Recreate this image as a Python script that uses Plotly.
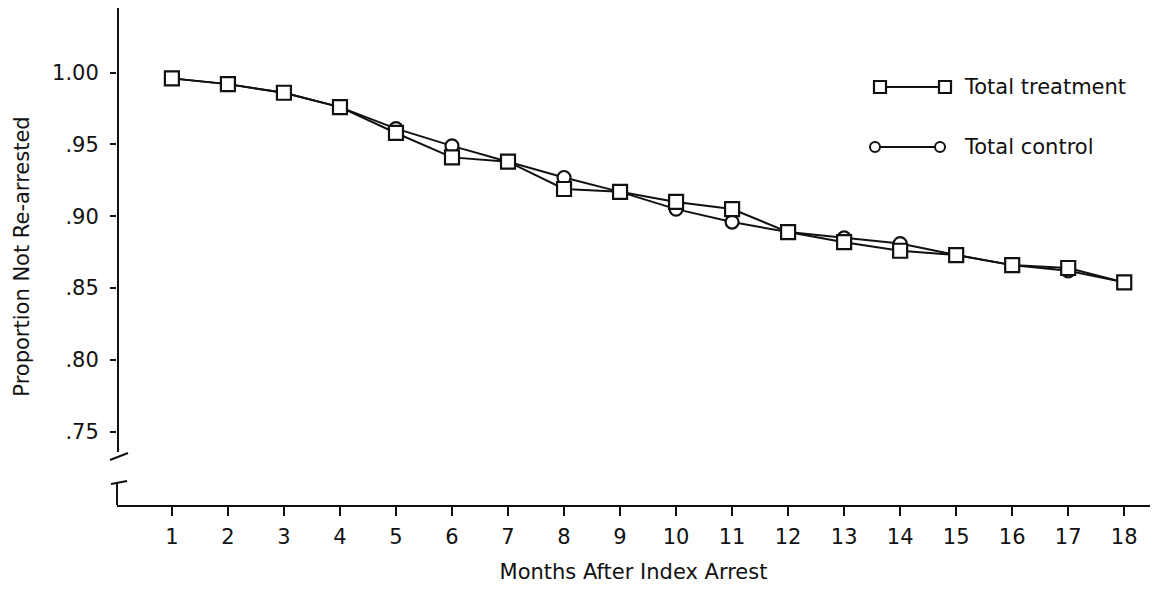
import plotly.graph_objects as go

months = list(range(1, 19))
treatment = [0.996, 0.992, 0.986, 0.976, 0.958, 0.941, 0.938, 0.919, 0.917,
             0.910, 0.905, 0.889, 0.882, 0.876, 0.873, 0.866, 0.864, 0.854]
control = [0.996, 0.992, 0.986, 0.976, 0.961, 0.949, 0.938, 0.927, 0.917,
           0.905, 0.896, 0.889, 0.885, 0.881, 0.873, 0.866, 0.862, 0.854]
y_tickvals = [0.75, 0.80, 0.85, 0.90, 0.95, 1.00]
y_ticktext = [".75", ".80", ".85", ".90", ".95", "1.00"]
x_ticktext = [str(m) for m in months]

FONT = "DejaVu Sans"
INK = "#111111"
FS = 21

fig = go.Figure()
fig.add_trace(go.Scatter(
    x=months, y=control, mode="lines+markers", name="Total control",
    line=dict(color=INK, width=2),
    marker=dict(symbol="circle", size=13, color="white", line=dict(color=INK, width=2.2)),
))
fig.add_trace(go.Scatter(
    x=months, y=treatment, mode="lines+markers", name="Total treatment",
    line=dict(color=INK, width=2),
    marker=dict(symbol="square", size=14, color="white", line=dict(color=INK, width=2.2)),
))

W, H = 1167, 590
ml, mr, mt, mb = 117, 17, 8, 85
pw, ph = W - ml - mr, H - mt - mb

def px(xp):
    return (xp - ml) / pw

def py(yp):
    return (H - mb - yp) / ph

shapes = []
# broken y axis
shapes.append(dict(type="line", xref="paper", yref="paper", x0=px(118), x1=px(118),
                   y0=py(8), y1=py(452), line=dict(color=INK, width=2)))
shapes.append(dict(type="line", xref="paper", yref="paper", x0=px(110), x1=px(128),
                   y0=py(460), y1=py(453), line=dict(color=INK, width=2)))
shapes.append(dict(type="line", xref="paper", yref="paper", x0=px(111), x1=px(127),
                   y0=py(484), y1=py(481), line=dict(color=INK, width=2)))
shapes.append(dict(type="line", xref="paper", yref="paper", x0=px(117), x1=px(117),
                   y0=py(483), y1=py(505), line=dict(color=INK, width=2)))

# custom legend
def leg_line(y, xa, xb):
    shapes.append(dict(type="line", xref="paper", yref="paper", x0=px(xa), x1=px(xb),
                       y0=py(y), y1=py(y), line=dict(color=INK, width=2)))

def leg_sq(xc, yc, h=6):
    shapes.append(dict(type="rect", xref="paper", yref="paper", x0=px(xc - h), x1=px(xc + h),
                       y0=py(yc + h), y1=py(yc - h), fillcolor="white",
                       line=dict(color=INK, width=2.2)))

def leg_circ(xc, yc, h=5):
    shapes.append(dict(type="circle", xref="paper", yref="paper", x0=px(xc - h), x1=px(xc + h),
                       y0=py(yc + h), y1=py(yc - h), fillcolor="white",
                       line=dict(color=INK, width=2)))

leg_line(87, 880, 945)
leg_sq(880, 87)
leg_sq(945, 87)
leg_line(147, 875, 940)
leg_circ(875, 147)
leg_circ(940, 147)

annotations = [
    dict(xref="paper", yref="paper", x=px(962), y=py(87), xanchor="left", yanchor="middle",
         text="Total treatment", showarrow=False, font=dict(family=FONT, size=FS, color=INK)),
    dict(xref="paper", yref="paper", x=px(962), y=py(147), xanchor="left", yanchor="middle",
         text="Total control", showarrow=False, font=dict(family=FONT, size=FS, color=INK)),
]

fig.update_layout(
    width=W, height=H,
    margin=dict(l=ml, r=mr, t=mt, b=mb),
    paper_bgcolor="white", plot_bgcolor="white",
    showlegend=False,
    font=dict(family=FONT, size=FS, color=INK),
    shapes=shapes, annotations=annotations,
    xaxis=dict(
        range=[0.02, 18.46], tickmode="array", tickvals=months, ticktext=x_ticktext,
        showgrid=False, zeroline=False, showline=True, linecolor=INK, linewidth=2,
        ticks="outside", ticklen=9, tickwidth=2, tickcolor=INK, ticklabelstandoff=3,
        tickfont=dict(size=FS),
        title=dict(text="Months After Index Arrest", standoff=16, font=dict(size=FS)),
    ),
    yaxis=dict(
        range=[0.699, 1.045], tickmode="array", tickvals=y_tickvals, ticktext=y_ticktext,
        showgrid=False, zeroline=False, showline=False,
        ticks="outside", ticklen=6, tickwidth=2, tickcolor=INK, ticklabelstandoff=7,
        tickfont=dict(size=FS),
        title=dict(text="Proportion Not Re-arrested", standoff=16, font=dict(size=FS)),
    ),
)

fig.write_html("out.html",
               config={"displayModeBar": False},
               post_script="document.body.style.margin='0';document.body.style.padding='0';")
